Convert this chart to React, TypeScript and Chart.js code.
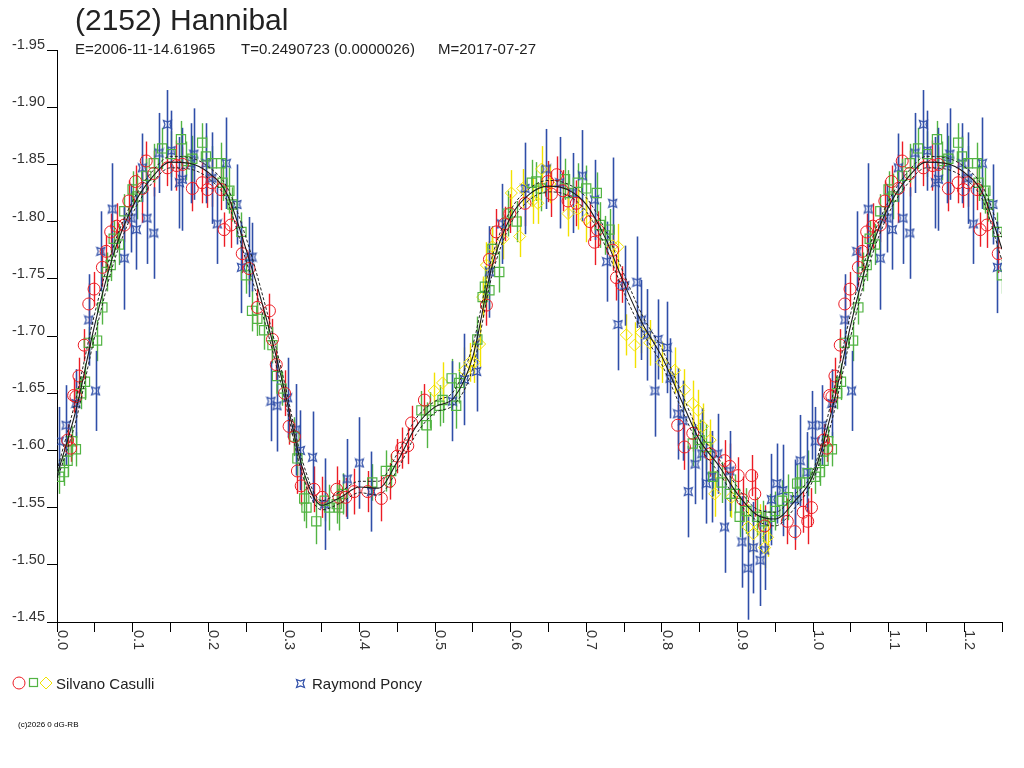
import React, { useEffect, useRef } from "react";
import { Chart, registerables } from "chart.js";

Chart.register(...registerables);

const FONT = '"Liberation Sans", Arial, sans-serif';

const TITLE = "(2152) Hannibal";
const SUB_E = "E=2006-11-14.61965";
const SUB_T = "T=0.2490723 (0.0000026)";
const SUB_M = "M=2017-07-27";
const LEGEND_CASULLI = "Silvano Casulli";
const LEGEND_PONCY = "Raymond Poncy";
const COPYRIGHT = "(c)2026 0 dG-RB";

const RED = "#ec1c24";
const GREEN = "#52b443";
const YELLOW = "#f2e200";
const BLUE = "#2f4ea8";

const X_MIN = 0;
const X_MAX = 1.25;
const X_STEP = 0.05;
const Y_MIN = -1.95;
const Y_MAX = -1.45;
const Y_STEP = 0.05;
const WRAP_LIMIT = 0.25;

// [phase, magnitude, error]
type P = [number, number, number];

const casulliRed: P[] = [
  [0.014, -1.609, 0.014], [0.018, -1.602, 0.012], [0.022, -1.648, 0.015], [0.025, -1.647, 0.013],
  [0.029, -1.665, 0.016], [0.036, -1.692, 0.014], [0.042, -1.728, 0.018], [0.049, -1.741, 0.015],
  [0.06, -1.76, 0.017], [0.065, -1.774, 0.014], [0.071, -1.791, 0.016], [0.079, -1.796, 0.02],
  [0.089, -1.797, 0.015], [0.095, -1.818, 0.018], [0.104, -1.835, 0.014], [0.113, -1.829, 0.03],
  [0.118, -1.853, 0.017], [0.128, -1.842, 0.02], [0.146, -1.847, 0.016], [0.158, -1.849, 0.022],
  [0.166, -1.85, 0.015], [0.179, -1.829, 0.02], [0.192, -1.834, 0.018], [0.199, -1.828, 0.016],
  [0.205, -1.834, 0.021], [0.217, -1.828, 0.018], [0.221, -1.793, 0.015], [0.23, -1.797, 0.02],
  [0.245, -1.772, 0.017], [0.254, -1.759, 0.014], [0.265, -1.725, 0.016], [0.281, -1.722, 0.015],
  [0.285, -1.697, 0.018], [0.29, -1.675, 0.014], [0.301, -1.65, 0.02], [0.307, -1.621, 0.016],
  [0.314, -1.612, 0.015], [0.318, -1.582, 0.02], [0.323, -1.569, 0.017], [0.34, -1.566, 0.02],
  [0.351, -1.559, 0.018], [0.37, -1.566, 0.02], [0.373, -1.559, 0.015], [0.382, -1.559, 0.017],
  [0.393, -1.564, 0.02], [0.411, -1.564, 0.018], [0.429, -1.558, 0.02], [0.44, -1.573, 0.016],
  [0.45, -1.595, 0.015], [0.456, -1.602, 0.018], [0.464, -1.604, 0.016], [0.469, -1.624, 0.015],
  [0.486, -1.644, 0.014], [0.568, -1.727, 0.018], [0.572, -1.767, 0.016], [0.581, -1.791, 0.02],
  [0.592, -1.798, 0.015], [0.599, -1.807, 0.017], [0.619, -1.816, 0.02], [0.649, -1.835, 0.018],
  [0.654, -1.824, 0.02], [0.661, -1.841, 0.016], [0.669, -1.827, 0.018], [0.676, -1.818, 0.015],
  [0.687, -1.816, 0.02], [0.705, -1.8, 0.017], [0.711, -1.782, 0.02], [0.715, -1.793, 0.016],
  [0.735, -1.775, 0.018], [0.74, -1.751, 0.02], [0.747, -1.745, 0.016], [0.821, -1.622, 0.018],
  [0.83, -1.603, 0.02], [0.841, -1.615, 0.016], [0.864, -1.597, 0.02], [0.883, -1.591, 0.018],
  [0.89, -1.586, 0.02], [0.901, -1.578, 0.016], [0.907, -1.557, 0.02], [0.919, -1.578, 0.018],
  [0.923, -1.562, 0.02], [0.936, -1.534, 0.018], [0.966, -1.538, 0.02], [0.976, -1.529, 0.016],
  [0.987, -1.546, 0.018], [0.993, -1.538, 0.02], [0.998, -1.55, 0.017],
];

const casulliGreen: P[] = [
  [0.003, -1.577, 0.015], [0.009, -1.581, 0.012], [0.014, -1.591, 0.014], [0.02, -1.608, 0.013],
  [0.025, -1.601, 0.015], [0.032, -1.65, 0.014], [0.037, -1.66, 0.016], [0.042, -1.694, 0.014],
  [0.053, -1.696, 0.018], [0.06, -1.725, 0.015], [0.066, -1.756, 0.017], [0.071, -1.762, 0.014],
  [0.075, -1.785, 0.016], [0.082, -1.78, 0.018], [0.089, -1.809, 0.015], [0.1, -1.828, 0.016],
  [0.106, -1.822, 0.02], [0.118, -1.84, 0.015], [0.128, -1.851, 0.017], [0.139, -1.864, 0.018],
  [0.151, -1.859, 0.02], [0.164, -1.872, 0.016], [0.171, -1.853, 0.017], [0.179, -1.855, 0.02],
  [0.192, -1.869, 0.017], [0.197, -1.857, 0.018], [0.205, -1.851, 0.015], [0.217, -1.851, 0.018],
  [0.219, -1.834, 0.016], [0.228, -1.827, 0.02], [0.232, -1.815, 0.015], [0.244, -1.791, 0.017],
  [0.25, -1.753, 0.016], [0.258, -1.722, 0.018], [0.265, -1.715, 0.015], [0.274, -1.705, 0.017],
  [0.285, -1.692, 0.016], [0.291, -1.665, 0.018], [0.297, -1.654, 0.015], [0.314, -1.612, 0.017],
  [0.318, -1.593, 0.015], [0.327, -1.558, 0.02], [0.33, -1.55, 0.018], [0.343, -1.538, 0.02],
  [0.354, -1.556, 0.018], [0.36, -1.55, 0.02], [0.37, -1.553, 0.017], [0.373, -1.55, 0.02],
  [0.378, -1.562, 0.018], [0.417, -1.572, 0.016], [0.435, -1.582, 0.018], [0.442, -1.582, 0.015],
  [0.482, -1.635, 0.017], [0.489, -1.622, 0.02], [0.493, -1.635, 0.016], [0.506, -1.639, 0.018],
  [0.51, -1.644, 0.02], [0.522, -1.663, 0.017], [0.528, -1.639, 0.02], [0.532, -1.659, 0.018],
  [0.556, -1.697, 0.02], [0.563, -1.734, 0.016], [0.566, -1.743, 0.018], [0.572, -1.74, 0.017],
  [0.576, -1.776, 0.02], [0.585, -1.756, 0.018], [0.596, -1.807, 0.02], [0.608, -1.8, 0.018],
  [0.628, -1.834, 0.02], [0.634, -1.835, 0.017], [0.64, -1.829, 0.02], [0.672, -1.837, 0.018],
  [0.676, -1.825, 0.02], [0.689, -1.834, 0.017], [0.7, -1.829, 0.02], [0.714, -1.825, 0.018],
  [0.718, -1.797, 0.02], [0.725, -1.788, 0.017], [0.731, -1.793, 0.018], [0.841, -1.606, 0.02],
  [0.85, -1.609, 0.018], [0.859, -1.603, 0.02], [0.868, -1.577, 0.017], [0.879, -1.572, 0.018],
  [0.89, -1.562, 0.02], [0.897, -1.562, 0.017], [0.903, -1.542, 0.018], [0.912, -1.547, 0.02],
  [0.926, -1.542, 0.017], [0.934, -1.538, 0.018], [0.943, -1.542, 0.02], [0.95, -1.547, 0.017],
  [0.959, -1.556, 0.018], [0.967, -1.559, 0.02], [0.979, -1.571, 0.017], [0.983, -1.572, 0.018],
  [0.993, -1.58, 0.02],
];

const casulliYellow: P[] = [
  [0.499, -1.652, 0.016], [0.51, -1.659, 0.018], [0.539, -1.67, 0.02], [0.546, -1.677, 0.017],
  [0.552, -1.677, 0.018], [0.559, -1.693, 0.02], [0.563, -1.734, 0.018], [0.568, -1.762, 0.02],
  [0.576, -1.778, 0.017], [0.59, -1.785, 0.018], [0.601, -1.825, 0.02], [0.612, -1.787, 0.018],
  [0.616, -1.829, 0.017], [0.629, -1.818, 0.02], [0.636, -1.816, 0.018], [0.641, -1.846, 0.02],
  [0.652, -1.833, 0.017], [0.676, -1.807, 0.02], [0.689, -1.811, 0.018], [0.7, -1.802, 0.02],
  [0.735, -1.779, 0.018], [0.742, -1.778, 0.02], [0.753, -1.701, 0.018], [0.764, -1.692, 0.02],
  [0.773, -1.703, 0.018], [0.784, -1.694, 0.02], [0.8, -1.677, 0.018], [0.817, -1.67, 0.02],
  [0.83, -1.653, 0.018], [0.841, -1.641, 0.02], [0.848, -1.635, 0.018], [0.854, -1.621, 0.02],
  [0.864, -1.609, 0.018], [0.87, -1.562, 0.02], [0.892, -1.559, 0.018], [0.914, -1.533, 0.02],
  [0.921, -1.527, 0.018], [0.93, -1.533, 0.02], [0.936, -1.515, 0.018], [0.94, -1.524, 0.017],
];

const poncyBlue: P[] = [
  [0.003, -1.608, 0.03], [0.012, -1.622, 0.035], [0.025, -1.641, 0.03], [0.042, -1.714, 0.04],
  [0.051, -1.652, 0.035], [0.058, -1.774, 0.035], [0.073, -1.811, 0.04], [0.089, -1.768, 0.045],
  [0.098, -1.803, 0.03], [0.105, -1.793, 0.035], [0.113, -1.847, 0.03], [0.119, -1.803, 0.04],
  [0.128, -1.79, 0.04], [0.135, -1.86, 0.035], [0.146, -1.885, 0.03], [0.151, -1.862, 0.035],
  [0.162, -1.834, 0.04], [0.166, -1.837, 0.045], [0.177, -1.851, 0.035], [0.181, -1.859, 0.04],
  [0.197, -1.851, 0.035], [0.205, -1.838, 0.04], [0.212, -1.798, 0.035], [0.224, -1.851, 0.04],
  [0.238, -1.815, 0.035], [0.244, -1.76, 0.04], [0.254, -1.769, 0.035], [0.258, -1.769, 0.03],
  [0.283, -1.643, 0.035], [0.291, -1.639, 0.04], [0.305, -1.646, 0.035], [0.316, -1.618, 0.04],
  [0.322, -1.6, 0.035], [0.338, -1.594, 0.04], [0.354, -1.553, 0.04], [0.384, -1.575, 0.035],
  [0.4, -1.589, 0.04], [0.416, -1.564, 0.035], [0.523, -1.643, 0.035], [0.539, -1.662, 0.04],
  [0.555, -1.669, 0.035], [0.572, -1.756, 0.04], [0.588, -1.798, 0.035], [0.619, -1.829, 0.04],
  [0.647, -1.846, 0.035], [0.665, -1.834, 0.04], [0.682, -1.825, 0.035], [0.695, -1.84, 0.04],
  [0.711, -1.819, 0.035], [0.735, -1.816, 0.04], [0.727, -1.765, 0.035], [0.742, -1.71, 0.04],
  [0.751, -1.744, 0.035], [0.767, -1.747, 0.04], [0.773, -1.714, 0.035], [0.781, -1.701, 0.04],
  [0.795, -1.697, 0.035], [0.807, -1.69, 0.04], [0.791, -1.652, 0.04], [0.811, -1.663, 0.035],
  [0.821, -1.632, 0.04], [0.828, -1.626, 0.035], [0.835, -1.564, 0.04], [0.844, -1.588, 0.035],
  [0.853, -1.597, 0.04], [0.859, -1.571, 0.035], [0.866, -1.577, 0.04], [0.874, -1.597, 0.035],
  [0.883, -1.533, 0.04], [0.89, -1.582, 0.035], [0.906, -1.52, 0.04], [0.914, -1.497, 0.045],
  [0.921, -1.515, 0.04], [0.93, -1.504, 0.04], [0.936, -1.513, 0.035], [0.945, -1.557, 0.04],
  [0.952, -1.571, 0.035], [0.96, -1.565, 0.04], [0.976, -1.557, 0.035], [0.983, -1.591, 0.04],
  [0.992, -1.581, 0.035], [0.999, -1.622, 0.03],
];

// Fourier model curve
const curvePhases: number[] = [
  0, 0.025, 0.05, 0.075, 0.1, 0.125, 0.15, 0.175, 0.2, 0.225, 0.25, 0.275, 0.3, 0.325,
  0.35, 0.375, 0.4, 0.425, 0.45, 0.475, 0.5, 0.525, 0.55, 0.575, 0.6, 0.625, 0.65, 0.675,
  0.7, 0.725, 0.75, 0.775, 0.8, 0.825, 0.85, 0.875, 0.9, 0.925, 0.95, 0.975, 1.0,
];
const curveMid: number[] = [
  -1.578, -1.635, -1.71, -1.772, -1.813, -1.838, -1.852, -1.851, -1.843, -1.824, -1.776,
  -1.72, -1.655, -1.584, -1.552, -1.559, -1.568, -1.567, -1.59, -1.621, -1.638, -1.646,
  -1.682, -1.76, -1.804, -1.824, -1.831, -1.828, -1.815, -1.786, -1.746, -1.71, -1.682,
  -1.645, -1.609, -1.587, -1.562, -1.544, -1.54, -1.555, -1.578,
];
const curveUpper: number[] = [
  -1.582, -1.645, -1.72, -1.779, -1.818, -1.843, -1.857, -1.856, -1.848, -1.83, -1.786,
  -1.728, -1.662, -1.59, -1.556, -1.564, -1.573, -1.573, -1.597, -1.628, -1.643, -1.652,
  -1.692, -1.768, -1.81, -1.829, -1.836, -1.833, -1.821, -1.793, -1.754, -1.717, -1.689,
  -1.652, -1.615, -1.593, -1.568, -1.549, -1.546, -1.561, -1.582,
];
const curveLower: number[] = [
  -1.574, -1.626, -1.7, -1.764, -1.807, -1.833, -1.847, -1.846, -1.838, -1.818, -1.766,
  -1.712, -1.648, -1.578, -1.548, -1.554, -1.563, -1.561, -1.583, -1.614, -1.633, -1.64,
  -1.672, -1.752, -1.798, -1.819, -1.826, -1.823, -1.809, -1.779, -1.738, -1.703, -1.675,
  -1.638, -1.603, -1.581, -1.556, -1.539, -1.534, -1.549, -1.574,
];

// phases above 1.0 repeat the first quarter of the cycle, as on the original plot
function phasedPoints(arr: P[]) {
  const out = arr.map(([x, y, e]) => ({ x, y, e }));
  arr.forEach(([x, y, e]) => {
    if (x <= WRAP_LIMIT) out.push({ x: x + 1, y, e });
  });
  return out;
}
function phasedCurve(vals: number[]) {
  const out = curvePhases.map((x, i) => ({ x, y: vals[i] }));
  curvePhases.forEach((x, i) => {
    if (x > 0 && x <= WRAP_LIMIT) out.push({ x: x + 1, y: vals[i] });
  });
  return out;
}

const BLUE_PATH = "M1.5 1.5 L5.5 3 L9.5 1.5 L8 5.5 L9.5 9.5 L5.5 8 L1.5 9.5 L3 5.5 Z";

function makeBlueSymbol(): HTMLCanvasElement {
  const c = document.createElement("canvas");
  c.width = 11;
  c.height = 11;
  const g = c.getContext("2d")!;
  g.strokeStyle = BLUE;
  g.lineWidth = 1.2;
  g.stroke(new Path2D(BLUE_PATH));
  return c;
}

const errorBarPlugin = {
  id: "errorBars",
  beforeDatasetsDraw(chart: any) {
    const { ctx, chartArea, scales } = chart;
    const xs = scales.x;
    const ys = scales.y;
    ctx.save();
    ctx.beginPath();
    ctx.rect(chartArea.left, chartArea.top, chartArea.right - chartArea.left, chartArea.bottom - chartArea.top);
    ctx.clip();
    chart.data.datasets.forEach((ds: any) => {
      if (!ds.errorBars) return;
      ctx.strokeStyle = ds.borderColor;
      ctx.lineWidth = ds.errorWidth || 1.4;
      ds.data.forEach((p: any) => {
        const px = Math.round(xs.getPixelForValue(p.x)) + 0.5;
        const y1 = ys.getPixelForValue(p.y - p.e);
        const y2 = ys.getPixelForValue(p.y + p.e);
        ctx.beginPath();
        ctx.moveTo(px, y1);
        ctx.lineTo(px, y2);
        ctx.stroke();
      });
    });
    ctx.restore();
  },
};

const xLabelPlugin = {
  id: "xLabels",
  afterDraw(chart: any) {
    const { ctx, scales } = chart;
    const xs = scales.x;
    ctx.save();
    ctx.font = `14.5px ${FONT}`;
    ctx.fillStyle = "#333";
    ctx.textAlign = "left";
    ctx.textBaseline = "alphabetic";
    xs.ticks.forEach((t: any) => {
      const v = t.value;
      if (Math.abs(v * 10 - Math.round(v * 10)) > 1e-6) return;
      const px = xs.getPixelForValue(v);
      ctx.save();
      ctx.translate(px + 1, xs.top + 8);
      ctx.rotate(Math.PI / 2);
      ctx.fillText(v.toFixed(1), 0, 0);
      ctx.restore();
    });
    ctx.restore();
  },
};

export default function App() {
  const ref = useRef<HTMLCanvasElement | null>(null);

  useEffect(() => {
    if (!ref.current) return;
    const blue = makeBlueSymbol();
    const axisGrid = {
      drawOnChartArea: false,
      drawTicks: true,
      tickLength: 10,
      color: "#000",
      lineWidth: 1,
    };
    const chart = new Chart(ref.current, {
      type: "scatter",
      data: {
        datasets: [
          {
            label: "model",
            data: phasedCurve(curveMid),
            showLine: true,
            borderColor: "#1a1a1a",
            borderWidth: 1.1,
            pointRadius: 0,
            cubicInterpolationMode: "monotone",
          } as any,
          {
            label: "model+",
            data: phasedCurve(curveUpper),
            showLine: true,
            borderColor: "#222",
            borderWidth: 1,
            borderDash: [3, 2],
            pointRadius: 0,
            cubicInterpolationMode: "monotone",
          } as any,
          {
            label: "model-",
            data: phasedCurve(curveLower),
            showLine: true,
            borderColor: "#222",
            borderWidth: 1,
            borderDash: [3, 2],
            pointRadius: 0,
            cubicInterpolationMode: "monotone",
          } as any,
          {
            label: "Casulli 1",
            data: phasedPoints(casulliRed),
            borderColor: RED,
            backgroundColor: "rgba(0,0,0,0)",
            pointStyle: "circle",
            pointRadius: 6,
            borderWidth: 1,
            errorBars: true,
          } as any,
          {
            label: "Casulli 2",
            data: phasedPoints(casulliGreen),
            borderColor: GREEN,
            backgroundColor: "rgba(0,0,0,0)",
            pointStyle: "rect",
            pointRadius: 6.5,
            borderWidth: 1.2,
            errorBars: true,
          } as any,
          {
            label: "Casulli 3",
            data: phasedPoints(casulliYellow),
            borderColor: YELLOW,
            backgroundColor: "rgba(0,0,0,0)",
            pointStyle: "rectRot",
            pointRadius: 6,
            borderWidth: 1,
            errorBars: true,
          } as any,
          {
            label: "Poncy",
            data: phasedPoints(poncyBlue),
            borderColor: BLUE,
            backgroundColor: BLUE,
            pointStyle: blue,
            pointRadius: 5,
            errorBars: true,
            errorWidth: 1.6,
          } as any,
        ],
      },
      options: {
        animation: false,
        responsive: false,
        maintainAspectRatio: false,
        events: [],
        layout: { padding: { left: 0, top: 50, right: 22, bottom: 0 } },
        plugins: {
          legend: { display: false },
          tooltip: { enabled: false },
          title: { display: false },
        },
        scales: {
          x: {
            type: "linear",
            min: X_MIN,
            max: X_MAX,
            ticks: { stepSize: X_STEP, display: false, autoSkip: false },
            grid: axisGrid,
            border: { display: true, color: "#000", width: 1 },
            afterFit: (s: any) => {
              s.height = 146;
            },
          },
          y: {
            type: "linear",
            reverse: true,
            min: Y_MIN,
            max: Y_MAX,
            ticks: {
              stepSize: Y_STEP,
              autoSkip: false,
              padding: 2,
              labelOffset: -5,
              color: "#333",
              font: { family: FONT, size: 14.5 },
              callback: (v: any) => Number(v).toFixed(2),
            },
            grid: axisGrid,
            border: { display: true, color: "#000", width: 1 },
            afterFit: (s: any) => {
              s.width = 57;
            },
          },
        },
      } as any,
      plugins: [errorBarPlugin, xLabelPlugin],
    });
    return () => chart.destroy();
  }, []);

  const text: React.CSSProperties = {
    position: "absolute",
    fontFamily: FONT,
    color: "#222",
    lineHeight: 1,
    whiteSpace: "nowrap",
  };

  return (
    <div style={{ position: "absolute", left: 0, top: 0, width: 1024, height: 768, background: "#fff" }}>
      <canvas ref={ref} width={1024} height={768} style={{ position: "absolute", left: 0, top: 0 }} />
      <div style={{ ...text, left: 75, top: 5, fontSize: 30 }}>{TITLE}</div>
      <div style={{ ...text, left: 75, top: 41, fontSize: 15 }}>{SUB_E}</div>
      <div style={{ ...text, left: 241, top: 41, fontSize: 15 }}>{SUB_T}</div>
      <div style={{ ...text, left: 438, top: 41, fontSize: 15 }}>{SUB_M}</div>
      <svg width={60} height={20} style={{ position: "absolute", left: 10, top: 673 }}>
        <circle cx={9} cy={10} r={6} fill="none" stroke={RED} strokeWidth={1} />
        <rect x={19.5} y={5.5} width={8} height={8} fill="none" stroke={GREEN} strokeWidth={1.2} />
        <polygon points="36,4 42,10 36,16 30,10" fill="none" stroke={YELLOW} strokeWidth={1} />
      </svg>
      <div style={{ ...text, left: 56, top: 676, fontSize: 15 }}>{LEGEND_CASULLI}</div>
      <svg width={11} height={11} style={{ position: "absolute", left: 295, top: 678 }}>
        <path d={BLUE_PATH} stroke={BLUE} strokeWidth={1.2} fill="none" />
      </svg>
      <div style={{ ...text, left: 312, top: 676, fontSize: 15 }}>{LEGEND_PONCY}</div>
      <div style={{ ...text, left: 18, top: 721, fontSize: 8, color: "#000" }}>{COPYRIGHT}</div>
    </div>
  );
}
